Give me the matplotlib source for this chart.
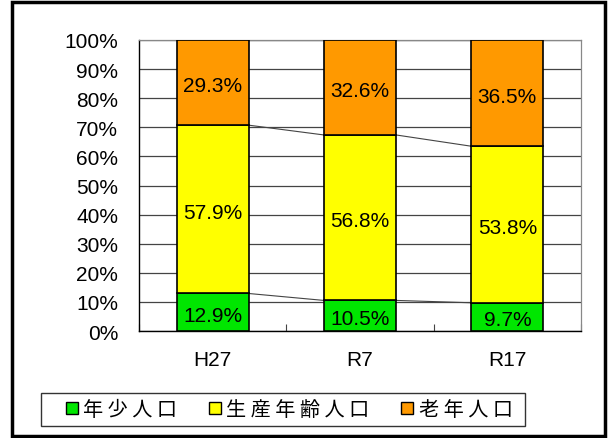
import matplotlib.pyplot as plt
import numpy as np
from matplotlib.lines import Line2D
from matplotlib.patches import Rectangle

plt.rcParams['font.family'] = ['Liberation Sans', 'Noto Sans CJK JP', 'DejaVu Sans']

# data
categories = ['H27', 'R7', 'R17']
series_names = ['年少人口', '生産年齢人口', '老年人口']
young = [12.9, 10.5, 9.7]
working = [57.9, 56.8, 53.8]
old = [29.3, 32.6, 36.5]
colors = ['#00e600', '#ffff00', '#ff9900']

values = np.array([young, working, old])
shares = values / values.sum(axis=0) * 100  # 100% stacked like the spreadsheet

fig = plt.figure(figsize=(6.08, 4.39), dpi=100)
ax = fig.add_axes([139 / 608, 1 - 332 / 439, 442 / 608, 291 / 439])

x = np.arange(len(categories))
width = 0.49
bottom = np.zeros(len(categories))
for i in range(len(series_names)):
    ax.bar(x, shares[i], width, bottom=bottom, color=colors[i],
           edgecolor='black', linewidth=1.2, zorder=3)
    for j in range(len(categories)):
        ax.text(x[j], bottom[j] + shares[i][j] / 2 - 1, f'{values[i][j]:.1f}%',
                ha='center', va='center', fontsize=15, zorder=4)
    bottom = bottom + shares[i]
    # series lines between neighbouring bars
    for j in range(len(categories) - 1):
        ax.plot([x[j] + width / 2, x[j + 1] - width / 2], [bottom[j], bottom[j + 1]],
                color='#444444', linewidth=0.8, zorder=2)

ax.set_xlim(-0.5, len(categories) - 0.5)
ax.set_ylim(0, 100)
ax.set_yticks(np.arange(0, 101, 10))
ax.set_yticklabels([f'{v}%' for v in range(0, 101, 10)], fontsize=15)
ax.set_xticks(x)
ax.set_xticklabels(categories, fontsize=15)
ax.set_xticks(np.arange(-0.5, len(categories), 1), minor=True)
ax.tick_params(axis='y', length=0, pad=15)
ax.tick_params(axis='x', which='major', length=0, pad=14)
ax.tick_params(axis='x', which='minor', direction='in', length=5, width=0.8, color='#444444')
ax.grid(axis='y', color='#444444', linewidth=0.9, zorder=1)
ax.set_axisbelow(True)

for side in ['top', 'right']:
    ax.spines[side].set_color('#888888')
    ax.spines[side].set_linewidth(0.9)
ax.spines['left'].set_linewidth(1.0)
ax.spines['bottom'].set_linewidth(1.0)

# legend (frame drawn separately so it can be wider than the entries)
handles = [Line2D([], [], marker='s', linestyle='none', markersize=8,
                  markerfacecolor=c, markeredgecolor='black', markeredgewidth=1.0)
           for c in colors]
labels = [' '.join(n) for n in series_names]
leg = fig.legend(handles, labels, loc='center', ncol=3,
                 bbox_to_anchor=(289 / 608, 1 - 410.5 / 439),
                 prop={'family': ['Noto Sans CJK JP'], 'size': 14.5},
                 frameon=False, handlelength=0.6, handletextpad=0.25,
                 columnspacing=1.6, borderpad=0.15, borderaxespad=0)
fig.patches.append(Rectangle((41 / 608, 1 - 427 / 439), 484 / 608, 33 / 439,
                             transform=fig.transFigure, fill=False,
                             edgecolor='#333333', linewidth=1.0))

# outer frame
fig.patches.append(Rectangle((12 / 608, 2 / 439), 593 / 608, 434 / 439,
                             transform=fig.transFigure, fill=False,
                             edgecolor='black', linewidth=2.5))

plt.savefig('out.png', dpi=100)
